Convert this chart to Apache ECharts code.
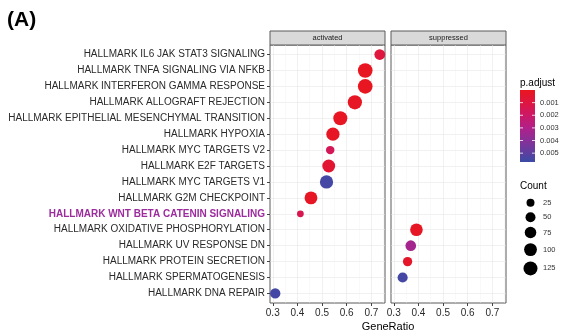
<!DOCTYPE html>
<html><head><meta charset="utf-8">
<script src="https://cdn.jsdelivr.net/npm/echarts@6/dist/echarts.min.js"></script>
<style>html,body{margin:0;padding:0;background:#fff}#c{width:573px;height:335px}</style>
</head><body><div id="c"></div><script>
// ---------------- data ----------------
const categories = [
  'HALLMARK IL6 JAK STAT3 SIGNALING',
  'HALLMARK TNFA SIGNALING VIA NFKB',
  'HALLMARK INTERFERON GAMMA RESPONSE',
  'HALLMARK ALLOGRAFT REJECTION',
  'HALLMARK EPITHELIAL MESENCHYMAL TRANSITION',
  'HALLMARK HYPOXIA',
  'HALLMARK MYC TARGETS V2',
  'HALLMARK E2F TARGETS',
  'HALLMARK MYC TARGETS V1',
  'HALLMARK G2M CHECKPOINT',
  'HALLMARK WNT BETA CATENIN SIGNALING',
  'HALLMARK OXIDATIVE PHOSPHORYLATION',
  'HALLMARK UV RESPONSE DN',
  'HALLMARK PROTEIN SECRETION',
  'HALLMARK SPERMATOGENESIS',
  'HALLMARK DNA REPAIR'
];
const geneRatio = [0.734, 0.675, 0.675, 0.633, 0.574, 0.544, 0.533, 0.527, 0.518, 0.455, 0.412, 0.392, 0.369, 0.356, 0.336, 0.310];
const counts    = [62, 140, 140, 130, 125, 108, 30, 100, 108, 100, 14, 95, 60, 40, 52, 55];
const pAdjust   = [0.0009, 0.00005, 0.00005, 0.0002, 0.0001, 0.0002, 0.0016, 0.0006, 0.0055, 0.0002, 0.0014, 0.0002, 0.0033, 0.0003, 0.0055, 0.0055];
const groups    = ['activated','activated','activated','activated','activated','activated','activated','activated','activated','activated','activated','suppressed','suppressed','suppressed','suppressed','activated'];
const facetNames = ['activated', 'suppressed'];
const xMajor = [0.3, 0.4, 0.5, 0.6, 0.7];
const xMinor = [0.35, 0.45, 0.55, 0.65, 0.75];
const pTicks = [0.001, 0.002, 0.003, 0.004, 0.005];
const countTicks = [25, 50, 75, 100, 125];
const highlighted = 'HALLMARK WNT BETA CATENIN SIGNALING';
const pRange = [0, 0.0057];

// ---------------- helpers ----------------
const colorStops = [
  [0.00, '#E8161E'], [0.18, '#DE1642'], [0.35, '#CC1866'],
  [0.53, '#B0208A'], [0.70, '#883097'], [0.88, '#5C3FA0'], [1.00, '#3A4CA5']
];
function hex2rgb(h){return [1,3,5].map(i=>parseInt(h.substr(i,2),16));}
function colorOf(p){
  let t = (p - pRange[0]) / (pRange[1] - pRange[0]);
  t = Math.max(0, Math.min(1, t));
  for (let i = 1; i < colorStops.length; i++) {
    if (t <= colorStops[i][0]) {
      const [t0, c0] = colorStops[i-1], [t1, c1] = colorStops[i];
      const f = (t - t0) / (t1 - t0);
      const a = hex2rgb(c0), b = hex2rgb(c1);
      return 'rgb(' + a.map((v,k)=>Math.round(v + (b[k]-v)*f)).join(',') + ')';
    }
  }
  return colorStops[colorStops.length-1][1];
}
function sizeOf(c){ return 3.15 + 0.97 * Math.sqrt(c); }

const lo = Math.min(...geneRatio), hi = Math.max(...geneRatio);
const pad = (hi - lo) * 0.05;
const xMin = lo - pad, xMax = hi + pad;
const yMin = -0.6, yMax = categories.length - 1 + 0.6;

const PANEL_TOP = 45, PANEL_H = 258, PANEL_W = 115;
const panelLefts = [270, 391];

const chart = echarts.init(document.getElementById('c'), null, {renderer: 'canvas'});

const grids = [], xAxes = [], yAxes = [], series = [], graphics = [];
const textColor = '#2a2a2a';

facetNames.forEach((fname, gi) => {
  grids.push({left: panelLefts[gi], top: PANEL_TOP, width: PANEL_W, height: PANEL_H,
    show: true, borderColor: '#5a5a5a', borderWidth: 1, backgroundColor: '#fff'});
  xAxes.push({type: 'value', gridIndex: gi, min: xMin, max: xMax, position: 'bottom',
    axisLine: {show: false, onZero: false}, splitLine: {show: false},
    axisTick: {show: true, customValues: xMajor, length: 3, lineStyle: {color: '#444'}},
    axisLabel: {customValues: xMajor, formatter: v => v.toFixed(1), color: textColor, fontSize: 10, margin: 5, fontFamily: 'Liberation Sans'}});
  yAxes.push({type: 'value', gridIndex: gi, min: yMin, max: yMax, inverse: true, position: 'left',
    axisLine: {show: false, onZero: false}, splitLine: {show: false},
    axisTick: {show: gi === 0, customValues: categories.map((_, i) => i), length: 3, lineStyle: {color: '#444'}},
    axisLabel: {show: gi === 0, customValues: categories.map((_, i) => i), margin: 5,
      fontSize: 10, color: textColor, fontFamily: 'Liberation Sans',
      formatter: v => { const n = categories[Math.round(v)]; return n === highlighted ? '{hl|' + n + '}' : n; },
      rich: {hl: {color: '#9C2C9E', fontWeight: 'bold', fontSize: 10, fontFamily: 'Liberation Sans'}}}});

  // grid lines
  const gl = [];
  categories.forEach((_, i) => gl.push({coords: [[xMin, i], [xMax, i]], lineStyle: {color: '#E4E4E4', width: 1}}));
  xMajor.forEach(x => gl.push({coords: [[x, yMin], [x, yMax]], lineStyle: {color: '#E4E4E4', width: 1}}));
  xMinor.filter(x => x < xMax).forEach(x => gl.push({coords: [[x, yMin], [x, yMax]], lineStyle: {color: '#EFEFEF', width: 0.8}}));
  series.push({type: 'lines', coordinateSystem: 'cartesian2d', xAxisIndex: gi, yAxisIndex: gi,
    silent: true, z: 1, polyline: false, data: gl, animation: false});

  // points
  const pts = [];
  categories.forEach((c, i) => { if (groups[i] === fname) pts.push([geneRatio[i], i, counts[i], pAdjust[i]]); });
  series.push({type: 'scatter', xAxisIndex: gi, yAxisIndex: gi, z: 3, clip: false, animation: false,
    data: pts, symbolSize: v => sizeOf(v[2]),
    itemStyle: {opacity: 1, color: p => colorOf(p.data[3])}});

  // strip
  graphics.push({type: 'rect', shape: {x: panelLefts[gi], y: 31, width: PANEL_W, height: 14},
    style: {fill: '#D9D9D9', stroke: '#5a5a5a', lineWidth: 1}});
  graphics.push({type: 'text', x: panelLefts[gi] + PANEL_W / 2, y: 38,
    style: {text: fname, fill: '#1a1a1a', fontSize: 7.5, fontFamily: 'Liberation Sans', align: 'center', verticalAlign: 'middle'}});
});

// title & axis title
graphics.push({type: 'text', x: 7, y: 20, style: {text: '(A)', fill: '#000', fontSize: 21, fontWeight: 'bold', fontFamily: 'Liberation Sans', verticalAlign: 'middle'}});
graphics.push({type: 'text', x: (panelLefts[0] + panelLefts[1] + PANEL_W) / 2, y: 327,
  style: {text: 'GeneRatio', fill: '#000', fontSize: 11, fontFamily: 'Liberation Sans', align: 'center', verticalAlign: 'middle'}});

// color legend
const CB = {x: 520, y: 90, w: 15, h: 72};
graphics.push({type: 'text', x: 520, y: 83, style: {text: 'p.adjust', fill: '#000', fontSize: 10, fontFamily: 'Liberation Sans', verticalAlign: 'middle'}});
graphics.push({type: 'rect', shape: {x: CB.x, y: CB.y, width: CB.w, height: CB.h},
  style: {fill: new echarts.graphic.LinearGradient(0, 0, 0, 1, colorStops.map(s => ({offset: s[0], color: s[1]})))}});
pTicks.forEach(p => {
  const yy = CB.y + (p - pRange[0]) / (pRange[1] - pRange[0]) * CB.h;
  graphics.push({type: 'line', shape: {x1: CB.x, y1: yy, x2: CB.x + 3, y2: yy}, style: {stroke: '#fff', lineWidth: 0.8}});
  graphics.push({type: 'line', shape: {x1: CB.x + CB.w - 3, y1: yy, x2: CB.x + CB.w, y2: yy}, style: {stroke: '#fff', lineWidth: 0.8}});
  graphics.push({type: 'text', x: 540, y: yy, style: {text: p.toFixed(3), fill: '#333', fontSize: 7.5, fontFamily: 'Liberation Sans', verticalAlign: 'middle'}});
});

// size legend
graphics.push({type: 'text', x: 520, y: 186, style: {text: 'Count', fill: '#000', fontSize: 10, fontFamily: 'Liberation Sans', verticalAlign: 'middle'}});
let cy = 202.7, prevH = null;
countTicks.forEach(c => {
  const d = sizeOf(c);
  const h = Math.max(14.5, d * 1.4);
  if (prevH !== null) cy += (prevH + h) / 2;
  prevH = h;
  graphics.push({type: 'circle', shape: {cx: 530.5, cy: cy, r: d / 2}, style: {fill: '#000'}});
  graphics.push({type: 'text', x: 543, y: cy, style: {text: String(c), fill: '#333', fontSize: 7.5, fontFamily: 'Liberation Sans', verticalAlign: 'middle'}});
});

chart.setOption({
  animation: false,
  backgroundColor: '#fff',
  grid: grids, xAxis: xAxes, yAxis: yAxes, series: series,
  graphic: graphics
});
</script></body></html>
